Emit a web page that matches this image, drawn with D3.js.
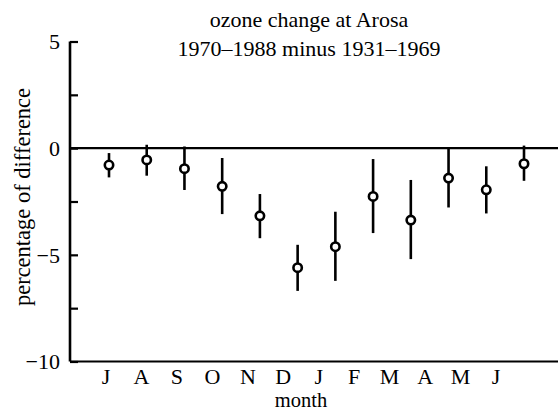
<!DOCTYPE html>
<html>
<head>
<meta charset="utf-8">
<script src="https://cdn.jsdelivr.net/npm/d3@7"></script>
<style>
  html, body { margin: 0; padding: 0; background: #fff; }
  svg { display: block; }
  text { font-family: "Liberation Serif", "Times New Roman", serif; fill: #000; }
</style>
</head>
<body>
<svg id="chart" width="558" height="412"></svg>
<script>
// Monthly ozone change at Arosa (percent), July through June
const months = ["J", "A", "S", "O", "N", "D", "J", "F", "M", "A", "M", "J"];
const meanChange = [-0.79, -0.55, -0.96, -1.79, -3.17, -5.60, -4.62, -2.26, -3.37, -1.40, -1.95, -0.73];
const upperBound = [-0.23, 0.16, 0.08, -0.46, -2.15, -4.53, -2.98, -0.51, -1.49, 0.00, -0.85, 0.12];
const lowerBound = [-1.37, -1.29, -1.96, -3.09, -4.22, -6.69, -6.22, -3.98, -5.20, -2.78, -3.06, -1.53];
const yTicks = [5, 2.5, 0, -2.5, -5, -7.5, -10];
const yTickLabels = { "5": "5", "0": "0", "-5": "\u22125", "-10": "\u221210" };

const rows = months.map((m, i) => ({
  key: i, month: m, mean: meanChange[i], hi: upperBound[i], lo: lowerBound[i]
}));

const serif = "'Liberation Serif', 'Times New Roman', serif";
const svg = d3.select("#chart");
const axisX = 70, plotRight = 558;

const y = d3.scaleLinear().domain([-10, 5]).range([361.5, 41.5]);
// marks and month labels sit on slightly different spacings
const xMark = d3.scalePoint().domain(d3.range(12)).range([109, 524]);
const xLabel = d3.scalePoint().domain(d3.range(12)).range([105.5, 495.5]);

// left axis with inward ticks
const yAxis = d3.axisRight(y).tickValues(yTicks).tickSize(8)
  .tickFormat(d => yTickLabels[String(d)] || "");
const gy = svg.append("g").attr("transform", `translate(${axisX},0)`).call(yAxis)
  .attr("font-family", serif).attr("font-size", 22);
gy.select(".domain").attr("stroke", "#000").attr("stroke-width", 2.6)
  .attr("d", `M0,${y(5)}V${y(-10)}`);
gy.selectAll(".tick line").attr("stroke", "#000").attr("stroke-width", 2.2);
gy.selectAll(".tick text")
  .attr("x", -10).attr("dy", "0.33em")
  .attr("text-anchor", "end")
  .style("font-size", "22px")
  .style("font-family", serif);

// bottom axis carrying the month letters
const xAxis = d3.axisBottom(xLabel).tickSize(0).tickFormat(i => months[i]);
const gx = svg.append("g").attr("transform", `translate(0,${y(-10)})`).call(xAxis)
  .attr("font-family", serif).attr("font-size", 22);
gx.select(".domain").attr("stroke", "#000").attr("stroke-width", 2.2)
  .attr("d", `M${axisX},0H${plotRight}`);
gx.selectAll(".tick text")
  .attr("y", 22)
  .attr("dy", 0)
  .style("font-size", "22px")
  .style("font-family", serif);

// zero reference line
svg.append("line")
  .attr("x1", axisX).attr("x2", plotRight)
  .attr("y1", y(0)).attr("y2", y(0))
  .attr("stroke", "#000").attr("stroke-width", 2.2);

// error bars
svg.append("g").selectAll("line").data(rows).join("line")
  .attr("x1", d => xMark(d.key)).attr("x2", d => xMark(d.key))
  .attr("y1", d => y(d.hi)).attr("y2", d => y(d.lo))
  .attr("stroke", "#000").attr("stroke-width", 2.6);

// open circle markers
svg.append("g").selectAll("circle").data(rows).join("circle")
  .attr("cx", d => xMark(d.key)).attr("cy", d => y(d.mean))
  .attr("r", 4.2)
  .attr("fill", "#fff").attr("stroke", "#000").attr("stroke-width", 2.6);

// titles
svg.append("text").attr("x", 309).attr("y", 27).attr("text-anchor", "middle")
  .style("font-size", "22px").text("ozone change at Arosa");
svg.append("text").attr("x", 309).attr("y", 56).attr("text-anchor", "middle")
  .style("font-size", "22px").text("1970\u20131988 minus 1931\u20131969");

svg.append("text").attr("x", 301).attr("y", 407).attr("text-anchor", "middle")
  .style("font-size", "20.5px").text("month");

svg.append("text")
  .attr("transform", "translate(30,197) rotate(-90)")
  .attr("text-anchor", "middle")
  .style("font-size", "22.5px").text("percentage of difference");
</script>
</body>
</html>
